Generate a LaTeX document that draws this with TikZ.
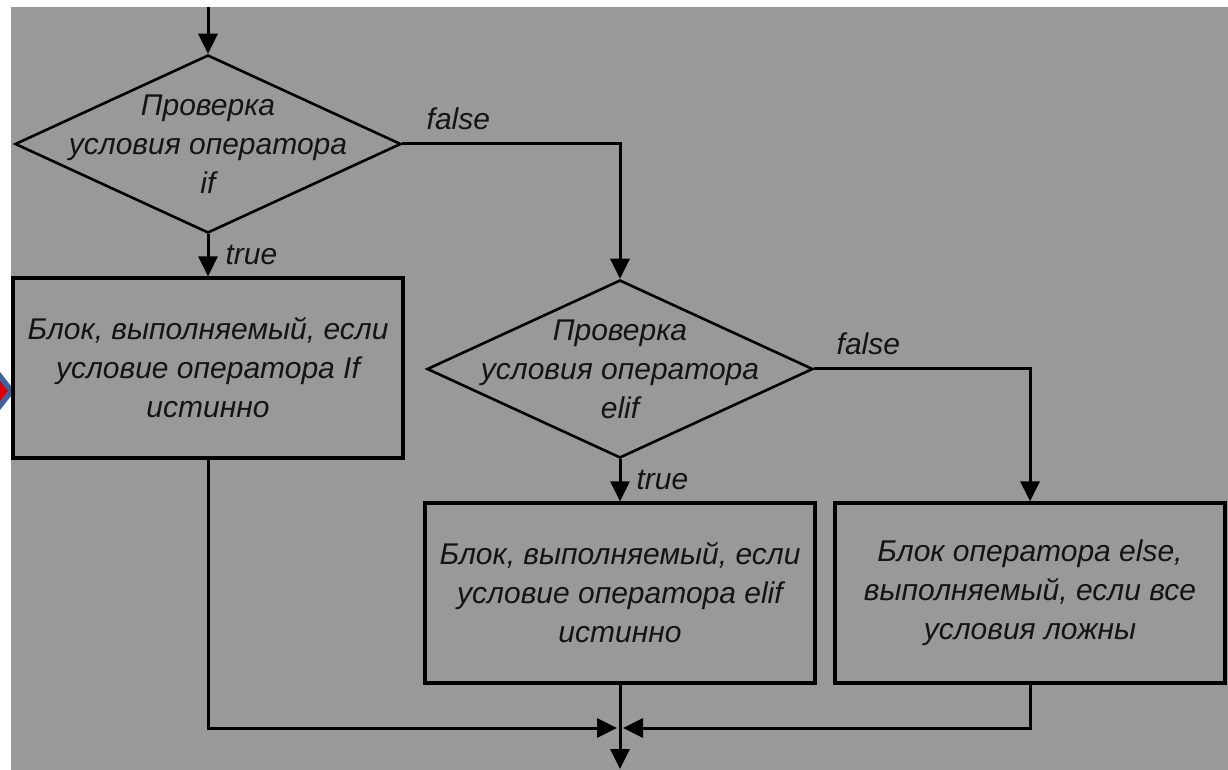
\documentclass[tikz,border=0pt]{standalone}
\usepackage{fontspec}
\setmainfont{Liberation Sans}
\usetikzlibrary{positioning,shapes.geometric,arrows.meta}
\definecolor{fon}{RGB}{153,153,153}
\definecolor{tekstcol}{RGB}{20,20,20}
\definecolor{pulared}{RGB}{220,0,0}
\definecolor{pulablue}{RGB}{60,100,160}
\newcommand{\tekstfont}{\fontsize{15}{19.5}\selectfont\itshape}

\begin{document}
\begin{tikzpicture}[x=0.5pt,y=-0.5pt,
blok/.style={draw, line width=1.6pt, minimum width=195pt, minimum height=90pt, inner sep=0pt, align=center, font=\tekstfont, text=tekstcol},
usl/.style={draw, diamond, line width=1.3pt, minimum width=193pt, minimum height=89pt, inner sep=0pt},
tekst/.style={align=center, inner sep=0pt, font=\tekstfont, text=tekstcol},
metka/.style={inner sep=0pt, font=\tekstfont, text=tekstcol},
linija/.style={line width=1.5pt, -{Triangle[length=10pt,width=9.5pt]}}]
\useasboundingbox (0,0) rectangle (1228,770);
\fill[white] (0,0) rectangle (1228,770);
\fill[fon] (11,7) rectangle (1228,770);
\fill[pulablue] (0,372) -- (15,391) -- (0,410) -- cycle;
\fill[pulared] (0,381) -- (8,391) -- (0,401) -- cycle;
\node[usl] (d1) at (208,144) {};
\node[tekst] (d1t) at (d1) {Проверка\\условия оператора\\if};
\node[blok] (b1) at (208,368) {Блок, выполняемый, если\\условие оператора If\\истинно};
\node[usl] (d2) at (620,369) {};
\node[tekst] (d2t) at (d2) {Проверка\\условия оператора\\elif};
\node[blok] (b2) at (620,593) {Блок, выполняемый, если\\условие оператора elif\\истинно};
\node[blok] (b3) at (1030,593) {Блок оператора else,\\выполняемый, если все\\условия ложны};
\coordinate (in) at (208,7);
\coordinate (join) at (620,728);
\coordinate (out) at (620,769);
\node[metka, above right=7pt and 12pt of d1.east, anchor=south west] (f1) {false};
\node[metka, above right=7pt and 11pt of d2.east, anchor=south west] (f2) {false};
\draw[linija] (in) -- (d1.north);
\draw[linija] (d1.south) -- node[metka, right, xshift=8pt] (t1) {true} (b1.north);
\draw[linija] (d1.east) -| (d2.north);
\draw[linija] (d2.south) -- node[metka, right, xshift=7.5pt] (t2) {true} (b2.north);
\draw[linija] (d2.east) -| (b3.north);
\draw[linija, shorten >=1.5pt] (b1.south) |- (join);
\draw[linija, shorten >=1.5pt] (b3.south) |- (join);
\draw[linija] (b2.south) -- (out);
\end{tikzpicture}
\end{document}
